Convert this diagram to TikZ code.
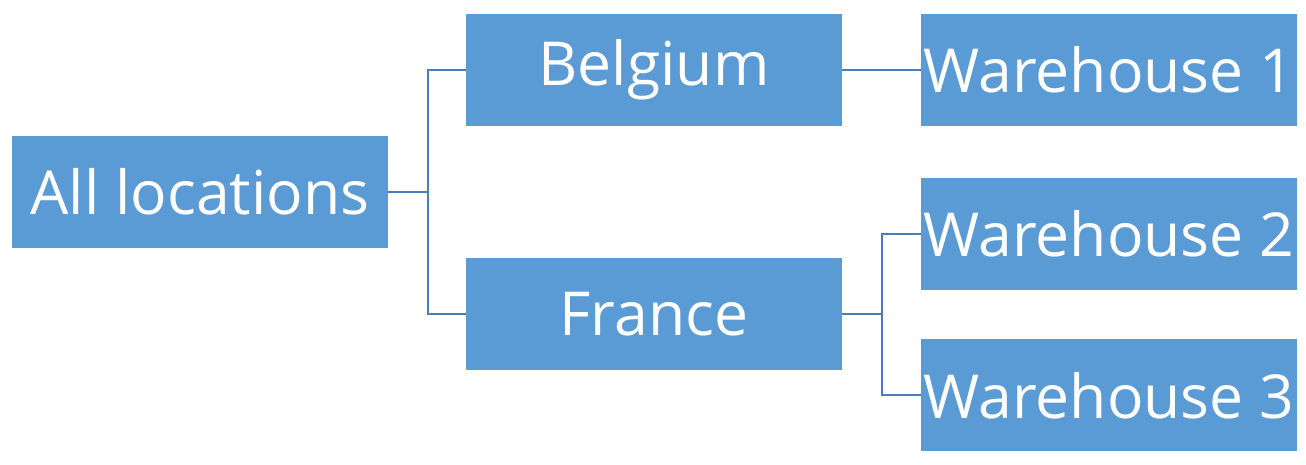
\documentclass[tikz,border=0pt]{standalone}
\usepackage{fontspec}
\setmainfont{Open Sans}
\definecolor{boxblue}{RGB}{91,155,213}
\definecolor{linkblue}{RGB}{74,126,187}
\tikzset{
  loc/.style = {fill = boxblue, text = white, inner sep = 0, minimum width = 7.52cm, minimum height = 2.24cm, font = \fontsize{34.5}{40}\selectfont},
  link/.style = {draw = linkblue, line width = .4mm}
}
\begin{document}
\begin{tikzpicture}
  \useasboundingbox (0, 0) rectangle (26.12, 9.3);

  %%root
  \node[loc] (all) at (4, 5.46) {All locations};

  %%countries
    \node[loc] (bel) at (13.08, 7.9) {Belgium};
    \node[loc] (fra) at (13.08, 3.02) {France};

  %%warehouses
      \node[loc] (wh1) at (22.18, 7.9) {Warehouse 1};
      \node[loc] (wh2) at (22.18, 4.62) {Warehouse 2};
      \node[loc] (wh3) at (22.18, 1.39) {Warehouse 3};

  \draw[link](all.east) -- ++(.8, 0) |- (bel.west);
  \draw[link](all.east) -- ++(.8, 0) |- (fra.west);

    \draw[link](bel.east) to (wh1.west);
    \draw[link](fra.east) -- ++(.8, 0) |- (wh2.west);
    \draw[link](fra.east) -- ++(.8, 0) |- (wh3.west);

\end{tikzpicture}
\end{document}
